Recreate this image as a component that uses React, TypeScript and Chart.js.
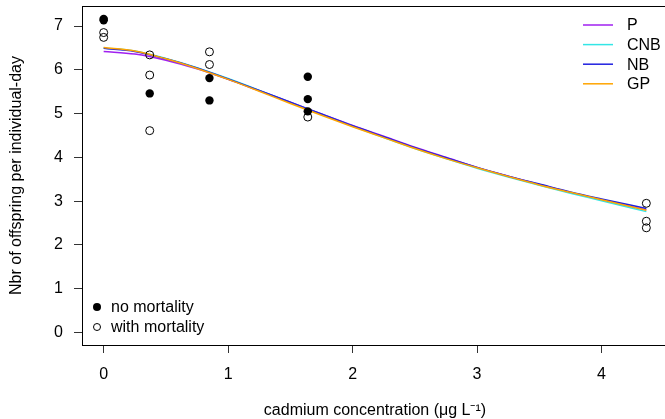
import React, { useEffect, useRef } from "react";
import { Chart, registerables } from "chart.js";

Chart.register(...registerables);

const FONT = "'Liberation Sans', Arial, Helvetica, sans-serif";

// Observations
const NO_MORT_X = [0, 0, 0.37, 0.85, 0.85, 1.64, 1.64, 1.64];
const NO_MORT_Y = [7.13, 7.16, 5.46, 5.81, 5.3, 5.84, 5.33, 5.05];
const WITH_MORT_X = [0, 0, 0.37, 0.37, 0.37, 0.85, 0.85, 1.64, 4.36, 4.36, 4.36];
const WITH_MORT_Y = [6.85, 6.74, 6.34, 5.88, 4.61, 6.41, 6.12, 4.92, 2.95, 2.54, 2.39];

// Fitted curves
const CURVE_X = [0, 0.25, 0.5, 0.75, 1, 1.25, 1.5, 1.75, 2, 2.25, 2.5, 2.75, 3, 3.25, 3.5, 3.75, 4, 4.36];
const P_Y = [6.42, 6.36, 6.22, 6.02, 5.78, 5.52, 5.26, 4.99, 4.73, 4.48, 4.23, 4.0, 3.77, 3.57, 3.38, 3.2, 3.03, 2.8];
const CNB_Y = [6.5, 6.43, 6.26, 6.05, 5.8, 5.53, 5.25, 4.98, 4.71, 4.45, 4.2, 3.97, 3.75, 3.55, 3.36, 3.18, 3.01, 2.76];
const NB_Y = [6.49, 6.42, 6.25, 6.04, 5.79, 5.53, 5.26, 4.99, 4.72, 4.47, 4.22, 3.99, 3.77, 3.57, 3.39, 3.21, 3.05, 2.83];
const GP_Y = [6.51, 6.43, 6.25, 6.03, 5.78, 5.51, 5.23, 4.96, 4.7, 4.45, 4.2, 3.97, 3.76, 3.56, 3.37, 3.2, 3.03, 2.79];

const X_TICKS = [0, 1, 2, 3, 4];
const Y_TICKS = [0, 1, 2, 3, 4, 5, 6, 7];

const CURVE_NAMES = ["P", "CNB", "NB", "GP"];
const CURVE_COLORS = ["#A020F0", "#33E6E6", "#2020E0", "#FFA500"];
const POINT_NAMES = ["no mortality", "with mortality"];
const X_TITLE = "cadmium concentration (\u03BCg L\u207B\u00B9)";
const Y_TITLE = "Nbr of offspring per individual-day";

const pts = (xs: number[], ys: number[]) => xs.map((x, i) => ({ x, y: ys[i] }));

const zeroPad = (s: any) => {
  s.paddingLeft = 0;
  s.paddingRight = 0;
  s.paddingTop = 0;
  s.paddingBottom = 0;
};

const decorPlugin = {
  id: "decor",
  afterDraw(chart: any) {
    const { ctx, chartArea } = chart;
    ctx.save();
    // box
    ctx.strokeStyle = "#000";
    ctx.lineWidth = 1;
    ctx.strokeRect(
      Math.round(chartArea.left) + 0.5,
      Math.round(chartArea.top) + 0.5,
      Math.round(chartArea.right - chartArea.left),
      Math.round(chartArea.bottom - chartArea.top)
    );
    ctx.fillStyle = "#000";
    ctx.font = `16px ${FONT}`;
    // x title
    ctx.textAlign = "center";
    ctx.textBaseline = "middle";
    ctx.fillText(X_TITLE, (chartArea.left + chartArea.right) / 2, 411);
    // y title
    ctx.save();
    ctx.translate(17, (chartArea.top + chartArea.bottom) / 2);
    ctx.rotate(-Math.PI / 2);
    ctx.fillText(Y_TITLE, 0, 0);
    ctx.restore();
    // curve legend (top right)
    ctx.textAlign = "left";
    const ly = [25, 44.6, 64.2, 83.8];
    CURVE_NAMES.forEach((name, i) => {
      ctx.strokeStyle = CURVE_COLORS[i];
      ctx.lineWidth = 1.5;
      ctx.beginPath();
      ctx.moveTo(583, ly[i]);
      ctx.lineTo(613, ly[i]);
      ctx.stroke();
      ctx.fillStyle = "#000";
      ctx.fillText(name, 627, ly[i] + 1);
    });
    // point legend (bottom left)
    const py = [307, 327];
    ctx.fillStyle = "#000";
    ctx.beginPath();
    ctx.arc(97, py[0], 4, 0, Math.PI * 2);
    ctx.fill();
    ctx.strokeStyle = "#000";
    ctx.lineWidth = 1;
    ctx.beginPath();
    ctx.arc(97, py[1], 3.5, 0, Math.PI * 2);
    ctx.stroke();
    POINT_NAMES.forEach((name, i) => {
      ctx.fillText(name, 111, py[i] + 1);
    });
    ctx.restore();
  },
};

export default function App() {
  const ref = useRef<HTMLCanvasElement | null>(null);
  useEffect(() => {
    if (!ref.current) return;
    const curveSets = CURVE_NAMES.map((name, i) => ({
      label: name,
      data: pts(CURVE_X, [P_Y, CNB_Y, NB_Y, GP_Y][i]),
      showLine: true,
      borderColor: CURVE_COLORS[i],
      backgroundColor: CURVE_COLORS[i],
      borderWidth: 1.5,
      pointRadius: 0,
      cubicInterpolationMode: "monotone" as const,
      fill: false,
    }));
    const chart = new Chart(ref.current, {
      type: "scatter",
      data: {
        datasets: [
          {
            label: POINT_NAMES[1],
            data: pts(WITH_MORT_X, WITH_MORT_Y),
            pointRadius: 4,
            pointBackgroundColor: "rgba(0,0,0,0)",
            pointBorderColor: "#000",
            pointBorderWidth: 1,
          },
          {
            label: POINT_NAMES[0],
            data: pts(NO_MORT_X, NO_MORT_Y),
            pointRadius: 4.2,
            pointBackgroundColor: "#000",
            pointBorderColor: "#000",
            pointBorderWidth: 0,
          },
          ...curveSets.slice().reverse(),
        ],
      },
      options: {
        responsive: false,
        animation: false,
        devicePixelRatio: 1,
        layout: { padding: { top: 6, right: 12, left: 0, bottom: 0 } },
        plugins: { legend: { display: false }, tooltip: { enabled: false } },
        scales: {
          x: {
            type: "linear",
            min: -0.174,
            max: 4.534,
            afterFit: (s: any) => {
              s.height = 74;
              zeroPad(s);
            },
            afterBuildTicks: (s: any) => {
              s.ticks = X_TICKS.map((v) => ({ value: v }));
            },
            ticks: {
              font: { family: FONT, size: 16 },
              color: "#000",
              padding: 12,
              maxRotation: 0,
              autoSkip: false,
              callback: (v: any) => String(v),
            },
            grid: { display: true, drawOnChartArea: false, tickLength: 8, color: "#333", tickColor: "#333" },
            border: { display: false },
          },
          y: {
            type: "linear",
            min: -0.287,
            max: 7.457,
            afterFit: (s: any) => {
              s.width = 82;
              zeroPad(s);
            },
            afterBuildTicks: (s: any) => {
              s.ticks = Y_TICKS.map((v) => ({ value: v }));
            },
            ticks: {
              font: { family: FONT, size: 16 },
              color: "#000",
              padding: 11,
              autoSkip: false,
              callback: (v: any) => String(v),
            },
            grid: { display: true, drawOnChartArea: false, tickLength: 8, color: "#333", tickColor: "#333" },
            border: { display: false },
          },
        },
      },
      plugins: [decorPlugin],
    });
    return () => chart.destroy();
  }, []);
  return (
    <div style={{ position: "fixed", left: 0, top: 0, width: 665, height: 419, overflow: "hidden", background: "#fff" }}>
      <canvas ref={ref} width={680} height={419} style={{ display: "block", width: 680, height: 419 }} />
    </div>
  );
}
